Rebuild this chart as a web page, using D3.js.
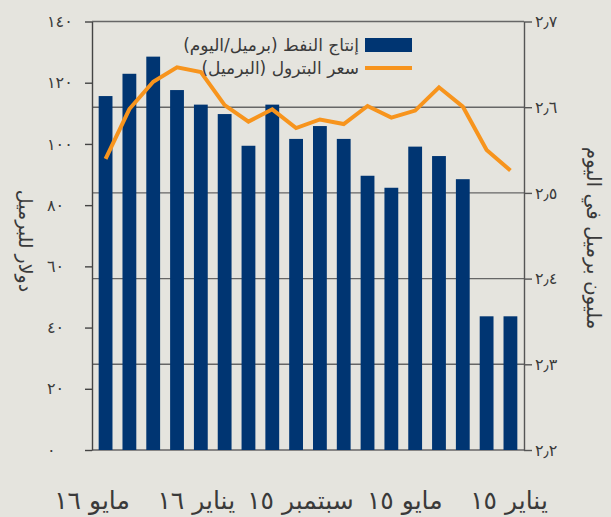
<!DOCTYPE html>
<html>
<head>
<meta charset="utf-8">
<script src="https://cdn.jsdelivr.net/npm/d3@7"></script>
<style>
  body { margin: 0; background: #e5e4de; }
  svg { display: block; font-family: "DejaVu Sans", sans-serif; }
</style>
</head>
<body>
<div id="chart"></div>
<script>
// months, Jan 15 .. Jun 16 (drawn right to left)
const months = ["يناير ١٥", "فبراير ١٥", "مارس ١٥", "أبريل ١٥", "مايو ١٥", "يونيو ١٥",
  "يوليو ١٥", "أغسطس ١٥", "سبتمبر ١٥", "أكتوبر ١٥", "نوفمبر ١٥", "ديسمبر ١٥",
  "يناير ١٦", "فبراير ١٦", "مارس ١٦", "أبريل ١٦", "مايو ١٦", "يونيو ١٦"];
// oil production, million barrels/day (right axis)
const production = [2.356, 2.356, 2.516, 2.543, 2.554, 2.506, 2.520, 2.563, 2.578,
  2.563, 2.603, 2.555, 2.592, 2.603, 2.620, 2.659, 2.639, 2.613];
// oil price, dollars/barrel (left axis)
const price = [91.3, 98.0, 112.2, 118.5, 110.9, 108.6, 112.4, 106.5, 108.0,
  105.2, 111.3, 107.3, 112.7, 123.5, 125.0, 120.3, 111.4, 95.1];
const xLabels = ["يناير ١٥", "مايو ١٥", "سبتمبر ١٥", "يناير ١٦", "مايو ١٦"];
const leftTicks = [0, 20, 40, 60, 80, 100, 120, 140];
const rightTicks = [2.2, 2.3, 2.4, 2.5, 2.6, 2.7];

const W = 611, H = 517;
const x0 = 92, x1 = 524, yTop = 21.5, yBot = 450;
const navy = "#003572", orange = "#f7941d", ink = "#3a3a3a", rule = "#666";

const toAr = s => String(s).replace(/[0-9]/g, d => "٠١٢٣٤٥٦٧٨٩"[d]).replace(".", "٫");

const svg = d3.select("#chart").append("svg")
  .attr("width", W).attr("height", H);

const x = d3.scaleBand().domain(months).range([x1, x0])
  .paddingInner(0.42).paddingOuter(0.28);
const yL = d3.scaleLinear().domain([0, 140]).range([yBot, yTop]);
const yR = d3.scaleLinear().domain([2.2, 2.7]).range([yBot, yTop]);

// grid lines on the right-axis ticks
svg.append("g").selectAll("line")
  .data(rightTicks)
  .join("line")
  .attr("x1", x0).attr("x2", x1)
  .attr("y1", d => yR(d)).attr("y2", d => yR(d))
  .attr("stroke", rule).attr("stroke-width", 1.4);

// bars
svg.append("g").selectAll("rect")
  .data(production)
  .join("rect")
  .attr("x", (d, i) => x(months[i]))
  .attr("width", x.bandwidth())
  .attr("y", d => yR(d))
  .attr("height", d => yR(2.2) - yR(d))
  .attr("fill", navy);

// price line
const line = d3.line()
  .x((d, i) => x(months[i]) + x.bandwidth() / 2)
  .y(d => yL(d));
svg.append("path")
  .datum(price)
  .attr("d", line)
  .attr("fill", "none")
  .attr("stroke", orange)
  .attr("stroke-width", 4)
  .attr("stroke-linejoin", "miter");

// left axis
const gl = svg.append("g")
  .attr("transform", `translate(${x0},0)`)
  .call(d3.axisLeft(yL).tickValues(leftTicks).tickSize(7).tickSizeOuter(0).tickFormat(toAr));
gl.select(".domain").attr("stroke", "#444").attr("stroke-width", 1.4);
gl.selectAll(".tick line").attr("stroke", "#444").attr("stroke-width", 1.4);
gl.selectAll(".tick text")
  .attr("text-anchor", "start").attr("x", -45)
  .attr("font-size", 16).attr("fill", ink)
  .attr("font-family", "DejaVu Sans");

// right axis
const gr = svg.append("g")
  .attr("transform", `translate(${x1},0)`)
  .call(d3.axisRight(yR).tickValues(rightTicks).tickSize(8).tickSizeOuter(0).tickFormat(toAr));
gr.select(".domain").attr("stroke", "#555").attr("stroke-width", 1.4);
gr.selectAll(".tick line").attr("stroke", "#555").attr("stroke-width", 1.4);
gr.selectAll(".tick text")
  .attr("x", 11)
  .attr("font-size", 16).attr("fill", ink)
  .attr("font-family", "DejaVu Sans");

// x labels, evenly spaced under the plot
const xl = d3.scalePoint().domain(xLabels).range([509, 92]);
svg.append("g").selectAll("text")
  .data(xLabels)
  .join("text")
  .attr("x", d => xl(d))
  .attr("y", 509)
  .attr("text-anchor", "middle")
  .attr("direction", "rtl")
  .attr("font-size", 25)
  .attr("fill", ink)
  .text(d => d);

// axis titles
svg.append("text")
  .attr("transform", "translate(19,241) rotate(90)")
  .attr("text-anchor", "middle")
  .attr("direction", "rtl")
  .attr("font-size", 19)
  .attr("fill", ink)
  .text("دولار للبرميل");
svg.append("text")
  .attr("transform", "translate(587,238) rotate(90)")
  .attr("text-anchor", "middle")
  .attr("direction", "rtl")
  .attr("font-size", 20)
  .attr("fill", ink)
  .text("مليون برميل في اليوم");

// legend
const leg = svg.append("g");
leg.append("rect")
  .attr("x", 365).attr("y", 38).attr("width", 47).attr("height", 14)
  .attr("fill", navy);
leg.append("line")
  .attr("x1", 365).attr("x2", 412).attr("y1", 68).attr("y2", 68)
  .attr("stroke", orange).attr("stroke-width", 4);
leg.append("text")
  .attr("x", 359).attr("y", 51)
  .attr("direction", "rtl").attr("text-anchor", "start")
  .attr("font-size", 17).attr("fill", ink)
  .text("إنتاج النفط (برميل/اليوم)");
leg.append("text")
  .attr("x", 359).attr("y", 74)
  .attr("direction", "rtl").attr("text-anchor", "start")
  .attr("font-size", 17).attr("fill", ink)
  .text("سعر البترول (البرميل)");
</script>
</body>
</html>
